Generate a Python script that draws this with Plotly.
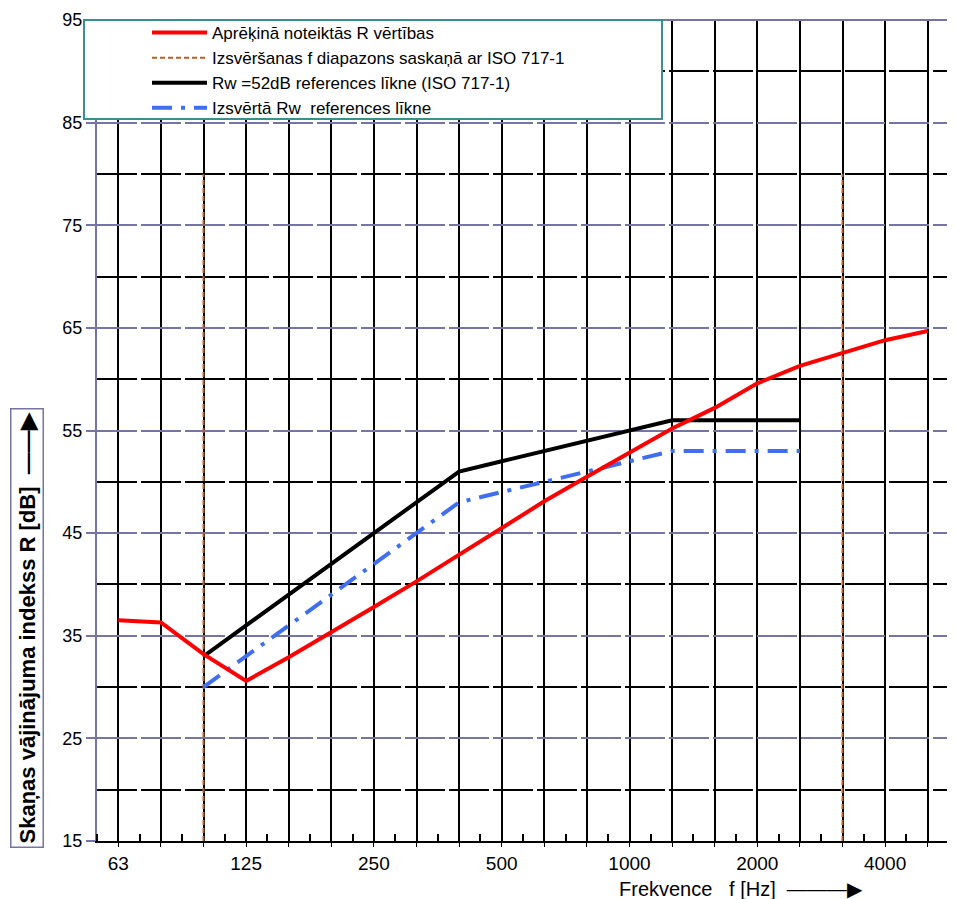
import plotly.graph_objects as go

# 1/3-octave band centre frequencies shown on the axis
bands = ["63", "80", "100", "125", "160", "200", "250", "315", "400", "500",
         "630", "800", "1000", "1250", "1600", "2000", "2500", "3150", "4000", "5000"]
band_labels = ["63", "", "", "125", "", "", "250", "", "", "500",
               "", "", "1000", "", "", "2000", "", "", "4000", ""]

# Calculated sound reduction index R (red)
r_calc = [36.5, 36.3, 33.2, 30.6, 32.9, 35.3, 37.8, 40.3, 42.9, 45.6,
          48.1, 50.5, 52.8, 55.2, 57.2, 59.6, 61.3, 62.6, 63.8, 64.7]

# Reference curve Rw = 52 dB (ISO 717-1), and shifted reference curve
ref_bands = ["100", "125", "160", "200", "250", "315", "400", "500",
             "630", "800", "1000", "1250", "1600", "2000", "2500"]
r_ref = [33, 36, 39, 42, 45, 48, 51, 52, 53, 54, 55, 56, 56, 56, 56]
r_shift = [30, 33, 36, 39, 42, 45, 48, 49, 50, 51, 52, 53, 53, 53, 53]

# Evaluation frequency range limits (ISO 717-1)
range_bands = ["100", "3150"]
range_low, range_high = 15, 80

y_ticks = [15, 25, 35, 45, 55, 65, 75, 85, 95]

names = ["Aprēķinā noteiktās R vērtības",
         "Izsvēršanas f diapazons saskaņā ar ISO 717-1",
         "Rw =52dB references līkne (ISO 717-1)",
         "Izsvērtā Rw  references līkne"]

FONT = "Arial, Liberation Sans, sans-serif"
SLATE = "#7474a6"
TEAL = "#3a8f8f"

idx = {b: i for i, b in enumerate(bands)}
x_all = [idx[b] for b in bands]
x_ref = [idx[b] for b in ref_bands]

rx, ry = [], []
for b in range_bands:
    rx += [idx[b], idx[b], None]
    ry += [range_low, range_high, None]

fig = go.Figure()
fig.add_trace(go.Scatter(x=rx, y=ry, mode="lines", name=names[1],
                         line=dict(color="#b8602a", width=2, dash="5px,3px"),
                         legendrank=2))
fig.add_trace(go.Scatter(x=x_ref, y=r_ref, mode="lines", name=names[2],
                         line=dict(color="black", width=4), legendrank=3))
fig.add_trace(go.Scatter(x=x_ref, y=r_shift, mode="lines", name=names[3],
                         line=dict(color="#3f6ff0", width=4, dash="20px,9px,4px,9px"),
                         legendrank=4))
fig.add_trace(go.Scatter(x=x_all, y=r_calc, mode="lines", name=names[0],
                         line=dict(color="#ff0000", width=4), legendrank=1))

# The page body has an 8px default margin; compensate so the picture lines up
OFF = 8
W, H = 955 - OFF, 899 - OFF
L, T = 97 - OFF, 20 - OFF
R = W - (949 - OFF)
B = H - (841 - OFF)
pw, ph = W - L - R, H - T - B

def px_x(p):
    return (p - OFF - L) / pw

def px_y(p):
    return 1 - (p - OFF - T) / ph

fig.update_layout(
    width=W, height=H,
    margin=dict(l=L, r=R, t=T, b=B, autoexpand=False),
    paper_bgcolor="white", plot_bgcolor="white",
    font=dict(family=FONT, color="black"),
    showlegend=True,
    legend=dict(x=px_x(147), y=px_y(15), xanchor="left", yanchor="top",
                bgcolor="rgba(0,0,0,0)", borderwidth=0,
                font=dict(size=17, family=FONT), itemwidth=55,
                traceorder="normal"),
    xaxis=dict(range=[-0.5, 19.5], tickmode="array", tickvals=x_all,
               ticktext=band_labels, showgrid=True, gridcolor="black",
               gridwidth=1.5, ticks="outside", ticklen=4, tickcolor="black",
               tickfont=dict(size=19), showline=True, linecolor="black",
               linewidth=2, zeroline=False, automargin=False,
               minor=dict(tick0=0.5, dtick=1, ticks="inside", ticklen=7,
                          tickcolor="black", tickwidth=1.5, showgrid=False)),
    yaxis=dict(range=[15, 95], tickmode="array", tickvals=y_ticks,
               showgrid=True, gridcolor=SLATE, gridwidth=1.5,
               griddash="40px,4px", ticks="outside", ticklen=9,
               tickcolor=SLATE, tickwidth=1.5, tickfont=dict(size=18),
               showline=True, linecolor=SLATE, linewidth=2, mirror=True,
               zeroline=False, automargin=False,
               minor=dict(tick0=20, dtick=10, showgrid=True, gridcolor="black",
                          gridwidth=1.5, griddash="40px,4px", ticks="")),
    shapes=[
        dict(type="line", xref="paper", yref="paper", x0=0, x1=1, y0=1, y1=1,
             line=dict(color=SLATE, width=2), layer="above"),
        dict(type="rect", xref="paper", yref="paper",
             x0=px_x(84), x1=px_x(662), y0=px_y(119), y1=px_y(20),
             fillcolor="white", line=dict(color=TEAL, width=2), layer="above"),
    ],
    annotations=[
        dict(text="<b>Skaņas vājinājuma indekss R [dB]  ——▶</b>",
             xref="paper", yref="paper", x=px_x(27), y=px_y(628),
             xanchor="center", yanchor="middle", textangle=-90,
             showarrow=False, font=dict(size=22, family=FONT),
             bordercolor=SLATE, borderwidth=1.5, borderpad=3),
        dict(text="Frekvence   f [Hz]  ———▶",
             xref="paper", yref="paper", x=px_x(741), y=px_y(889),
             xanchor="center", yanchor="middle", showarrow=False,
             font=dict(size=20, family=FONT)),
    ],
)

fig.write_html("out.html")
